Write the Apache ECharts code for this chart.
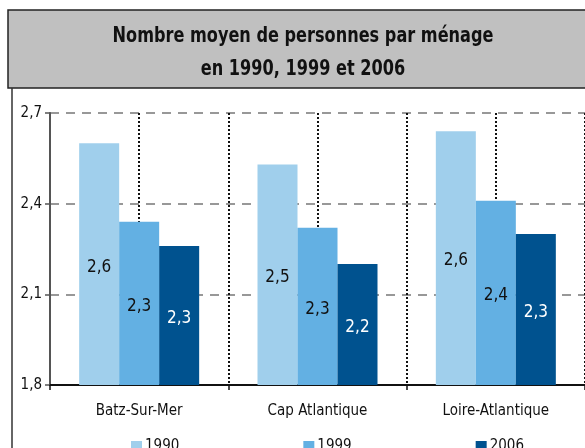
<!DOCTYPE html>
<html>
<head>
<meta charset="utf-8">
<script src="https://cdn.jsdelivr.net/npm/echarts@6/dist/echarts.min.js"></script>
<style>
  html, body { margin: 0; padding: 0; background: #fff; }
  #chart { width: 585px; height: 448px; }
</style>
</head>
<body>
<div id="chart"></div>
<script>
// donnees
var communes = ['Batz-Sur-Mer', 'Cap Atlantique', 'Loire-Atlantique'];
var annees = ['1990', '1999', '2006'];
var v1990 = [2.60, 2.53, 2.64];
var v1999 = [2.34, 2.32, 2.41];
var v2006 = [2.26, 2.20, 2.30];
var yTicks = [1.8, 2.1, 2.4, 2.7];

var couleurs = ['#a0cfec', '#63b0e3', '#00528f'];
var police = '"Liberation Sans Narrow", "DejaVu Sans Condensed", sans-serif';

var chart = echarts.init(document.getElementById('chart'));

function serie(nom, valeurs, idx) {
    return {
        name: nom,
        type: 'bar',
        data: valeurs,
        barWidth: 40,
        barGap: '0%',
        itemStyle: { color: couleurs[idx] },
        label: {
            show: true,
            position: 'inside',
            offset: [0, 3],
            fontFamily: police,
            fontSize: 17,
            color: idx === 2 ? '#fff' : '#111',
            formatter: function (p) { return p.value.toFixed(1).replace('.', ','); }
        }
    };
}

chart.setOption({
    animation: false,
    textStyle: { fontFamily: police },
    graphic: [
        {
            type: 'rect', z: 10,
            shape: { x: 8, y: 10, width: 590, height: 78 },
            style: { fill: '#c0c0c0', stroke: '#222', lineWidth: 1.5 }
        },
        {
            type: 'text', z: 11,
            x: 303, y: 53,
            scaleX: 0.815,
            style: {
                text: 'Nombre moyen de personnes par ménage\nen 1990, 1999 et 2006',
                fontFamily: police, fontWeight: 'bold', fontSize: 22,
                lineHeight: 33, fill: '#111',
                align: 'center', verticalAlign: 'middle'
            }
        },
        {
            type: 'line', z: 10,
            shape: { x1: 12, y1: 88, x2: 12, y2: 448 },
            style: { stroke: '#333', lineWidth: 1.5 }
        }
    ],
    legend: {
        data: annees,
        left: 126, top: 434,
        icon: 'rect', itemWidth: 11, itemHeight: 11,
        itemGap: 124,
        textStyle: { fontFamily: police, fontSize: 15, color: '#111', padding: [0, 0, 0, -2] }
    },
    grid: { left: 50, right: 0, top: 113, bottom: 63 },
    xAxis: [
        {
            type: 'category',
            data: communes,
            axisLine: { lineStyle: { color: '#111', width: 2 } },
            axisTick: { show: true, length: 5, lineStyle: { color: '#111', width: 1.5 } },
            axisLabel: { fontFamily: police, fontSize: 15, color: '#111', margin: 19 },
            splitLine: { show: false }
        },
        {
            type: 'category',
            data: ['a', 'b', 'c', 'd', 'e', 'f'],
            position: 'bottom',
            axisLine: { show: false },
            axisTick: { show: false },
            axisLabel: { show: false },
            splitLine: {
                show: true, interval: 0,
                lineStyle: { color: '#111', type: [2, 2], width: 2 }
            }
        }
    ],
    yAxis: {
        type: 'value',
        min: 1.8, max: 2.7, interval: 0.3,
        axisLine: { show: true, lineStyle: { color: '#555', width: 2 } },
        axisTick: { show: true, length: 5, lineStyle: { color: '#555', width: 1.5 } },
        axisLabel: {
            fontFamily: police, fontSize: 15, color: '#111', margin: 8,
            formatter: function (v) { return v.toFixed(1).replace('.', ','); }
        },
        splitLine: { lineStyle: { color: '#777', type: [9, 7], width: 1.5 } }
    },
    series: [
        serie(annees[0], v1990, 0),
        serie(annees[1], v1999, 1),
        serie(annees[2], v2006, 2)
    ]
});
</script>
</body>
</html>
